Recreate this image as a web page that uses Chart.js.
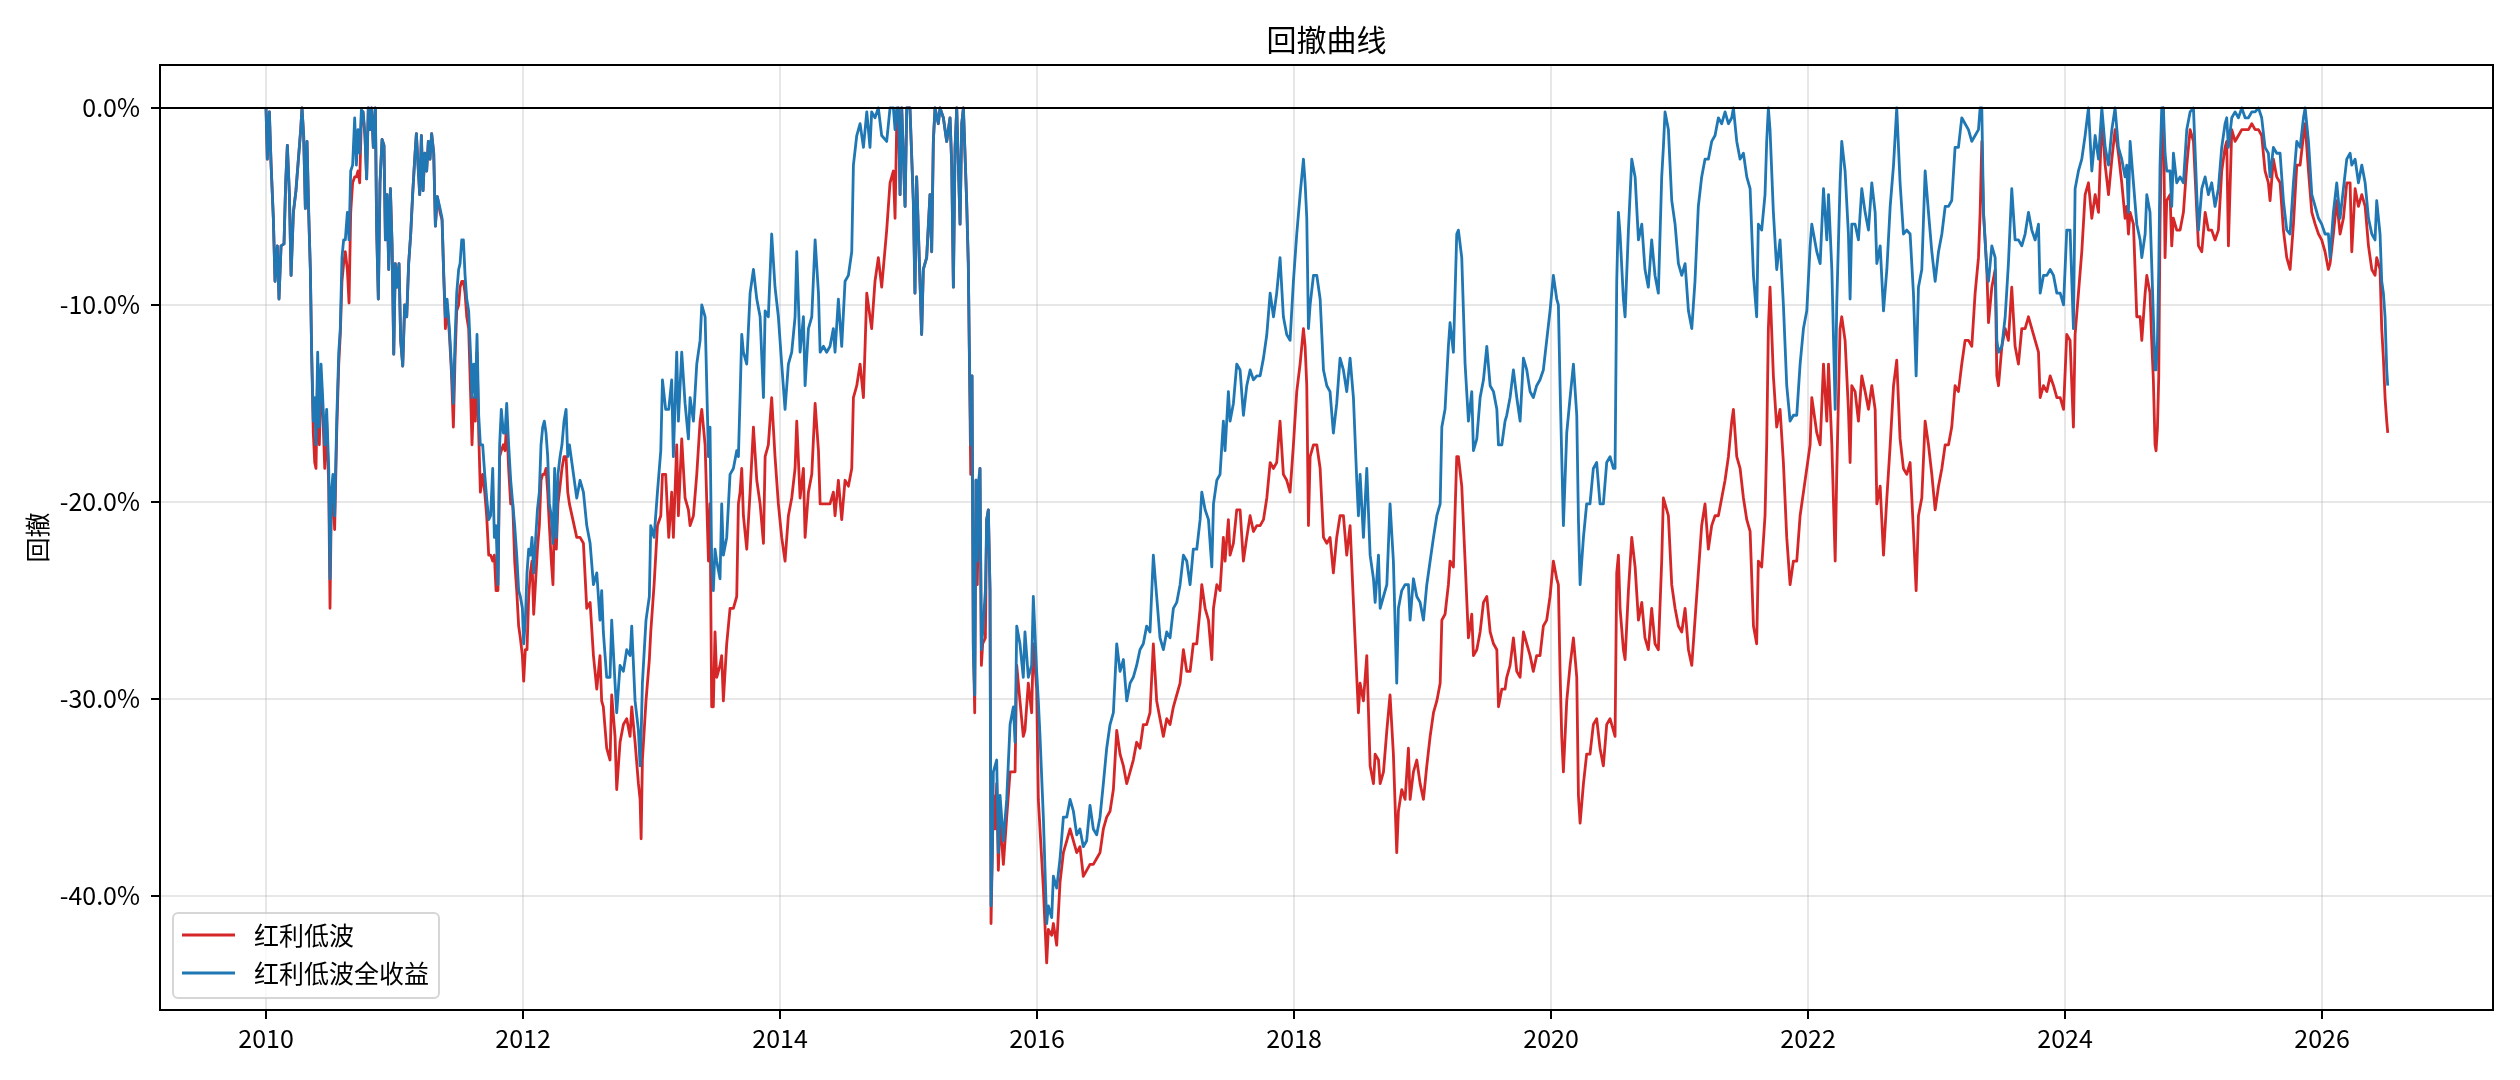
<!DOCTYPE html>
<html>
<head>
<meta charset="utf-8">
<script src="https://cdn.jsdelivr.net/npm/chart.js@4.4.0/dist/chart.umd.min.js"></script>
<style>
html,body{margin:0;padding:0;background:#fff;}
#wrap{width:2520px;height:1080px;position:relative;}
</style>
</head>
<body>
<div id="wrap"><canvas id="c" width="2520" height="1080"></canvas></div>
<script>
// ---- texts ----
const chartTitle = '回撤曲线';
const yAxisTitle = '回撤';
const seriesNames = ['红利低波', '红利低波全收益'];
const seriesColors = ['#d62728', '#1f77b4'];

// ---- tick labels ----
const xTickYears = [2010, 2012, 2014, 2016, 2018, 2020, 2022, 2024, 2026];
const yTickValues = [0, -10, -20, -30, -40];

// ---- dates (decimal years) ----
const dates = [
2010.000,2010.010,2010.026,2010.039,2010.057,2010.070,2010.088,2010.101,2010.117,2010.140,
2010.153,2010.166,2010.182,2010.195,2010.213,2010.233,2010.252,2010.270,2010.280,2010.293,
2010.306,2010.319,2010.332,2010.345,2010.355,2010.368,2010.379,2010.389,2010.402,2010.415,
2010.428,2010.441,2010.457,2010.472,2010.488,2010.498,2010.508,2010.521,2010.534,2010.550,
2010.566,2010.578,2010.591,2010.604,2010.617,2010.633,2010.646,2010.659,2010.674,2010.690,
2010.703,2010.716,2010.729,2010.742,2010.755,2010.770,2010.783,2010.796,2010.809,2010.822,
2010.835,2010.851,2010.861,2010.874,2010.887,2010.903,2010.918,2010.929,2010.942,2010.955,
2010.968,2010.981,2010.994,2011.006,2011.019,2011.035,2011.048,2011.064,2011.079,2011.095,
2011.110,2011.126,2011.141,2011.157,2011.170,2011.183,2011.196,2011.209,2011.222,2011.235,
2011.250,2011.263,2011.276,2011.289,2011.305,2011.318,2011.333,2011.354,2011.370,2011.383,
2011.396,2011.409,2011.427,2011.442,2011.458,2011.471,2011.484,2011.499,2011.510,2011.523,
2011.536,2011.549,2011.562,2011.577,2011.593,2011.603,2011.616,2011.629,2011.642,2011.655,
2011.668,2011.686,2011.702,2011.717,2011.733,2011.748,2011.764,2011.777,2011.790,2011.805,
2011.818,2011.831,2011.847,2011.860,2011.873,2011.888,2011.904,2011.920,2011.935,2011.951,
2011.966,2011.979,2011.995,2012.005,2012.018,2012.031,2012.044,2012.057,2012.070,2012.083,
2012.099,2012.112,2012.127,2012.140,2012.153,2012.166,2012.179,2012.192,2012.205,2012.220,
2012.233,2012.246,2012.259,2012.272,2012.288,2012.303,2012.319,2012.335,2012.348,2012.361,
2012.418,2012.444,2012.470,2012.496,2012.522,2012.548,2012.574,2012.599,2012.612,2012.625,
2012.651,2012.677,2012.690,2012.716,2012.729,2012.755,2012.781,2012.807,2012.833,2012.846,
2012.872,2012.898,2012.911,2012.919,2012.929,2012.957,2012.983,2012.994,2013.020,2013.046,
2013.072,2013.085,2013.110,2013.134,2013.157,2013.170,2013.196,2013.209,2013.235,2013.261,
2013.287,2013.300,2013.326,2013.352,2013.378,2013.391,2013.417,2013.443,2013.455,2013.468,
2013.481,2013.494,2013.507,2013.533,2013.546,2013.559,2013.585,2013.611,2013.637,2013.663,
2013.676,2013.689,2013.702,2013.715,2013.741,2013.767,2013.793,2013.819,2013.845,2013.871,
2013.884,2013.909,2013.935,2013.961,2013.987,2014.013,2014.039,2014.065,2014.091,2014.117,
2014.130,2014.156,2014.182,2014.195,2014.221,2014.247,2014.273,2014.299,2014.312,2014.338,
2014.363,2014.389,2014.415,2014.428,2014.454,2014.480,2014.506,2014.532,2014.558,2014.571,
2014.597,2014.623,2014.649,2014.675,2014.700,2014.713,2014.739,2014.765,2014.791,
2014.830,2014.856,2014.882,2014.895,2014.908,2014.921,2014.934,2014.947,2014.973,2014.986,
2015.011,2015.037,2015.050,2015.063,2015.089,2015.102,2015.115,2015.141,2015.167,2015.180,
2015.193,2015.206,2015.232,2015.245,2015.271,2015.297,2015.323,2015.336,2015.349,2015.362,
2015.375,2015.401,2015.414,2015.427,2015.452,2015.465,2015.473,2015.484,2015.494,2015.504,
2015.515,2015.525,2015.535,2015.546,2015.556,2015.567,2015.577,2015.598,2015.608,2015.621,
2015.634,2015.642,2015.652,2015.660,2015.673,2015.686,2015.699,2015.712,2015.738,2015.764,
2015.790,2015.816,2015.829,2015.842,2015.867,2015.893,2015.906,2015.932,2015.958,2015.971,
2015.997,2016.010,2016.023,2016.049,2016.075,2016.088,2016.114,2016.127,2016.153,2016.179,
2016.205,2016.231,2016.257,2016.283,2016.309,2016.334,2016.360,2016.386,2016.412,2016.438,
2016.464,2016.490,2016.516,2016.542,2016.568,2016.594,2016.620,2016.646,2016.672,2016.698,
2016.724,2016.749,2016.775,2016.801,2016.827,2016.853,2016.879,2016.905,2016.931,2016.957,
2016.983,2017.009,2017.035,2017.061,2017.087,2017.113,2017.139,2017.165,2017.191,2017.216,
2017.243,2017.269,2017.282,2017.308,2017.334,2017.360,2017.373,2017.399,2017.424,2017.450,
2017.463,2017.489,2017.502,2017.528,2017.554,2017.580,2017.606,2017.632,2017.658,2017.684,
2017.710,2017.736,2017.762,2017.788,2017.814,2017.840,2017.865,2017.891,2017.917,2017.943,
2017.969,2017.995,2018.021,2018.047,2018.073,2018.086,2018.099,2018.112,2018.125,2018.151,
2018.177,2018.203,2018.229,2018.255,2018.280,2018.306,2018.332,2018.358,2018.384,2018.410,
2018.436,2018.462,2018.488,2018.501,2018.514,2018.540,2018.566,2018.592,2018.618,2018.631,
2018.657,2018.670,2018.696,2018.722,2018.747,2018.773,2018.799,2018.812,2018.838,2018.864,
2018.890,2018.903,2018.929,2018.955,2018.981,2019.007,2019.033,2019.059,2019.085,2019.111,
2019.137,2019.150,2019.175,2019.201,2019.214,2019.240,2019.266,2019.279,2019.305,2019.331,
2019.357,2019.383,2019.396,2019.422,2019.448,2019.474,2019.500,2019.526,2019.552,2019.578,
2019.591,2019.617,2019.642,
2019.655,2019.681,2019.707,2019.733,2019.759,2019.785,2019.811,2019.837,2019.862,2019.888,
2019.914,2019.940,2019.966,2019.992,2020.018,2020.044,2020.057,2020.070,2020.083,2020.096,
2020.122,2020.148,2020.174,2020.200,2020.213,2020.226,2020.252,2020.277,2020.303,2020.329,
2020.355,2020.381,2020.407,2020.433,2020.459,2020.485,2020.498,2020.511,2020.524,2020.537,
2020.563,2020.576,2020.602,2020.628,2020.654,2020.680,2020.706,2020.731,2020.757,2020.783,
2020.809,2020.835,2020.861,2020.874,2020.887,2020.913,2020.939,2020.965,2020.991,2021.017,
2021.043,2021.069,2021.095,2021.120,2021.146,2021.172,2021.198,2021.224,2021.250,2021.276,
2021.302,2021.328,2021.354,2021.380,2021.406,2021.419,2021.445,2021.471,2021.497,2021.523,
2021.549,2021.575,2021.600,2021.613,2021.639,2021.665,2021.678,2021.691,2021.704,2021.730,
2021.756,2021.782,2021.808,2021.834,2021.860,2021.886,2021.912,2021.938,2021.964,2021.990,
2022.016,2022.029,
2022.068,2022.094,2022.120,2022.146,2022.159,2022.185,2022.211,2022.223,2022.249,2022.262,
2022.288,2022.314,2022.327,2022.340,2022.366,2022.392,2022.418,2022.444,2022.470,2022.496,
2022.522,2022.535,2022.561,2022.587,2022.613,2022.639,2022.665,2022.690,2022.716,2022.742,
2022.768,2022.794,2022.820,2022.841,2022.859,2022.885,2022.911,2022.937,2022.963,2022.989,
2023.015,2023.041,2023.067,2023.093,2023.118,2023.144,2023.170,2023.196,2023.222,2023.248,
2023.274,2023.300,2023.326,2023.339,2023.352,2023.365,2023.391,2023.404,2023.430,2023.456,
2023.469,2023.482,2023.508,2023.534,2023.559,2023.585,2023.611,2023.637,2023.663,2023.689,
2023.715,2023.741,2023.767,2023.793,2023.806,2023.832,2023.858,2023.884,2023.910,2023.936,
2023.962,2023.988,2024.013,2024.039,2024.065,2024.078,2024.104,2024.130,2024.156,2024.182,
2024.208,2024.234,2024.260,2024.286,2024.312,2024.338,2024.364,2024.389,2024.415,2024.441,
2024.467,
2024.480,2024.493,2024.506,2024.532,2024.558,2024.584,2024.597,2024.623,2024.636,2024.661,
2024.674,2024.687,2024.700,2024.708,2024.719,2024.729,2024.739,2024.752,2024.765,2024.778,
2024.791,2024.817,2024.830,2024.843,2024.869,2024.895,2024.921,2024.947,2024.973,2024.999,
2025.025,2025.038,2025.064,2025.090,2025.115,2025.141,2025.167,2025.193,2025.219,2025.245,
2025.258,2025.271,2025.297,2025.323,2025.349,2025.375,2025.401,2025.427,2025.453,2025.479,
2025.505,2025.530,2025.556,2025.582,2025.595,2025.621,2025.647,2025.673,2025.699,2025.725,
2025.751,2025.777,2025.803,2025.829,2025.855,2025.868,2025.894,2025.920,2025.946,2025.972,
2025.997,2026.023,2026.049,2026.062,2026.088,2026.114,2026.140,2026.166,2026.192,2026.218,
2026.231,2026.257,2026.283,2026.309,2026.335,2026.361,2026.387,2026.412,2026.425,2026.451,
2026.464,2026.477,2026.490,2026.503,2026.511
];

// ---- 红利低波 drawdown (%) ----
const drawdownIndex = [
0,-2.6,-0.2,-2.8,-5.6,-8.8,-7.0,-9.7,-7.0,-6.9,
-3.8,-1.9,-4.4,-8.5,-5.3,-4.2,-2.6,-1.1,0,-1.4,
-5.1,-1.7,-5.3,-8.2,-12.4,-16.5,-18.0,-18.3,-13.3,-17.1,
-13.6,-15.3,-18.3,-15.9,-19.2,-25.4,-20.1,-19.5,-21.4,-16.5,
-13.0,-11.5,-8.8,-7.9,-7.3,-8.2,-9.9,-5.3,-3.8,-3.5,
-3.5,-3.2,-3.8,-0.5,-0.2,-1.4,-3.6,0,-1.1,0,
-2.0,0,-6.2,-9.7,-3.8,-1.6,-1.9,-6.7,-4.4,-8.2,
-4.1,-7.0,-12.5,-7.9,-9.1,-7.9,-11.8,-13.1,-10.0,-10.6,
-7.9,-6.4,-4.4,-2.6,-1.3,-2.9,-4.4,-1.4,-4.2,-2.3,
-3.2,-1.7,-2.6,-1.3,-2.3,-6.0,-4.5,-5.3,-5.7,-8.5,
-11.2,-10.0,-11.5,-13.3,-16.2,-12.7,-10.3,-10.0,-9.1,-8.8,
-8.8,-9.4,-10.6,-11.2,-14.7,-17.1,-14.7,-15.9,-12.4,-16.5,
-19.5,-18.6,-19.5,-20.7,-22.7,-22.7,-23.0,-22.7,-24.5,-24.5,
-17.7,-17.4,-17.1,-17.4,-15.9,-18.3,-20.1,-20.1,-23.0,-24.5,
-26.3,-26.9,-27.8,-29.1,-27.5,-27.5,-24.8,-23.6,-23.0,-25.7,
-23.9,-22.4,-21.2,-18.9,-18.6,-18.6,-18.3,-19.5,-21.2,-23.0,
-24.2,-20.1,-22.4,-20.1,-19.2,-18.3,-17.7,-17.7,-19.5,-20.1,
-21.8,-21.8,-22.1,-25.4,-25.1,-27.8,-29.5,-27.8,-30.1,-30.4,
-32.5,-33.1,-29.8,-31.9,-34.6,-32.2,-31.3,-31.0,-31.9,-30.4,
-32.2,-34.3,-35.1,-37.1,-33.1,-30.1,-28.0,-26.6,-24.2,-21.2,
-20.7,-18.6,-18.6,-21.8,-19.5,-21.8,-17.1,-20.7,-16.8,-19.8,
-20.4,-21.2,-20.7,-18.6,-15.9,-15.3,-17.1,-23.0,-20.1,-30.4,
-30.4,-26.6,-28.9,-28.3,-27.8,-30.1,-27.2,-25.4,-25.4,-24.8,
-20.1,-19.5,-18.3,-20.7,-22.4,-19.5,-16.2,-18.9,-20.1,-22.1,
-17.7,-17.1,-14.7,-17.7,-20.1,-21.8,-23.0,-20.7,-19.8,-18.3,
-15.9,-19.8,-18.3,-21.8,-19.5,-18.6,-15.0,-17.4,-20.1,-20.1,
-20.1,-20.1,-19.5,-20.7,-18.9,-20.9,-18.9,-19.2,-18.3,-14.7,
-14.1,-13.0,-14.7,-9.4,-10.6,-11.2,-8.8,-7.6,-9.1,
-6.2,-3.8,-3.2,-5.6,-0.8,0,-4.4,0,-5.0,0,
0,-4.7,-9.4,-3.5,-8.8,-11.5,-8.2,-7.6,-4.4,-7.3,
-1.7,0,-0.8,0,-0.5,-1.7,-0.5,-2.9,-9.1,-2.0,
0,-5.9,-0.8,0,-4.7,-7.9,-12.4,-18.6,-13.6,-27.2,
-30.7,-18.9,-24.2,-20.1,-18.3,-28.3,-27.2,-26.9,-20.9,-20.4,
-24.5,-41.4,-37.8,-34.9,-36.6,-34.3,-38.7,-36.0,-38.4,-36.0,
-33.7,-33.7,-33.7,-28.3,-30.1,-31.9,-31.6,-29.2,-30.7,-27.2,
-29.5,-35.1,-36.6,-39.6,-43.4,-41.7,-42.0,-41.4,-42.5,-39.3,
-37.8,-37.2,-36.6,-37.2,-37.8,-37.5,-39.0,-38.7,-38.4,-38.4,
-38.1,-37.8,-36.6,-36.0,-35.7,-34.6,-31.6,-32.8,-33.4,-34.3,
-33.7,-33.1,-32.2,-32.5,-31.3,-31.3,-30.7,-27.2,-30.1,-31.0,
-31.9,-31.0,-31.3,-30.4,-29.8,-29.2,-27.5,-28.6,-28.6,-27.2,
-27.2,-25.4,-24.2,-25.4,-26.0,-28.0,-25.4,-24.2,-24.5,-21.8,
-23.0,-20.9,-22.7,-22.1,-20.4,-20.4,-23.0,-21.8,-20.7,-21.5,
-21.2,-21.2,-20.9,-19.8,-18.0,-18.3,-18.0,-15.9,-18.6,-18.9,
-19.5,-17.1,-14.4,-13.0,-11.2,-12.1,-14.1,-21.2,-17.7,-17.1,
-17.1,-18.3,-21.8,-22.1,-21.8,-23.6,-21.8,-20.7,-20.7,-22.7,
-21.2,-25.1,-28.9,-30.7,-29.2,-30.1,-27.8,-33.4,-34.3,-32.8,
-33.1,-34.3,-33.7,-31.6,-29.8,-32.8,-37.8,-35.7,-34.6,-35.1,
-32.5,-35.1,-33.7,-33.1,-34.3,-35.1,-33.4,-31.9,-30.7,-30.1,
-29.2,-26.0,-25.7,-24.2,-23.0,-23.3,-17.7,-17.7,-19.2,-23.0,
-26.9,-25.7,-27.8,-27.5,-26.6,-25.1,-24.8,-26.6,-27.2,-27.5,
-30.4,-29.5,-29.5,
-28.9,-28.3,-26.9,-28.6,-28.9,-26.6,-27.2,-27.8,-28.6,-27.8,
-27.8,-26.3,-26.0,-24.8,-23.0,-23.9,-24.2,-28.6,-31.9,-33.7,
-30.1,-28.3,-26.9,-28.9,-34.9,-36.3,-34.3,-32.8,-32.8,-31.3,
-31.0,-32.5,-33.4,-31.3,-31.0,-31.6,-31.9,-23.6,-22.7,-25.4,
-27.5,-28.0,-24.5,-21.8,-23.3,-26.0,-25.1,-26.9,-27.5,-25.4,
-27.2,-27.5,-23.0,-19.8,-20.1,-20.7,-24.2,-25.4,-26.3,-26.6,
-25.4,-27.5,-28.3,-26.0,-23.6,-21.2,-20.1,-22.4,-21.2,-20.7,
-20.7,-19.8,-18.9,-17.7,-15.9,-15.3,-17.7,-18.3,-19.8,-20.9,
-21.5,-26.3,-27.2,-23.0,-23.3,-20.7,-17.1,-11.2,-9.1,-13.6,
-16.2,-15.3,-18.0,-21.8,-24.2,-23.0,-23.0,-20.7,-19.5,-18.3,
-17.1,-14.7,
-16.5,-17.1,-13.0,-15.9,-13.0,-17.1,-23.0,-18.6,-11.2,-10.6,
-11.8,-15.3,-18.0,-14.1,-14.4,-15.9,-13.6,-14.4,-15.3,-14.1,
-15.3,-20.1,-19.2,-22.7,-19.8,-17.1,-14.1,-12.8,-16.8,-18.3,
-18.6,-18.0,-21.5,-24.5,-20.7,-19.8,-15.9,-17.1,-18.6,-20.4,
-19.2,-18.3,-17.1,-17.1,-16.2,-14.1,-14.4,-13.0,-11.8,-11.8,
-12.1,-9.4,-7.6,-5.3,-1.7,-5.3,-8.2,-10.9,-9.1,-8.2,
-13.6,-14.1,-12.1,-11.2,-11.8,-9.1,-12.1,-13.0,-11.2,-11.2,
-10.6,-11.2,-11.8,-12.4,-14.7,-14.1,-14.4,-13.6,-14.1,-14.7,
-14.7,-15.3,-11.5,-11.8,-16.2,-11.5,-9.4,-7.3,-4.4,-3.8,
-5.6,-4.4,-5.3,-0.5,-2.9,-4.4,-2.6,-1.1,-2.3,-3.8,
-5.6,
-5.0,-6.4,-5.3,-5.9,-10.6,-10.6,-11.8,-9.4,-8.5,-9.4,
-11.8,-13.8,-17.1,-17.4,-16.2,-13.6,-5.9,-0.8,0,-7.6,
-4.7,-4.4,-7.0,-5.6,-6.2,-6.2,-5.3,-2.9,-1.1,-1.7,
-5.3,-7.0,-7.3,-5.3,-6.2,-6.2,-6.7,-6.2,-3.2,-2.0,
-1.7,-7.0,-1.1,-1.7,-1.4,-1.1,-1.1,-1.1,-0.8,-1.1,
-1.1,-1.4,-3.2,-3.8,-4.7,-2.6,-3.5,-3.8,-6.2,-7.6,
-8.2,-5.9,-2.9,-2.9,-1.4,-0.8,-3.2,-5.3,-5.9,-6.4,
-6.7,-7.3,-8.2,-7.9,-6.4,-4.7,-6.4,-5.6,-3.8,-3.8,
-7.3,-4.1,-5.0,-4.4,-5.0,-7.0,-8.2,-8.5,-7.6,-8.2,
-11.2,-12.7,-14.7,-15.9,-16.5
];

// ---- 红利低波全收益 drawdown (%) ----
const drawdownTotalReturn = [
0,-2.6,-0.2,-2.8,-5.6,-8.8,-7.0,-9.7,-7.0,-6.9,
-3.8,-1.9,-4.4,-8.5,-5.3,-4.2,-2.6,-1.1,0,-1.4,
-5.1,-1.7,-5.3,-8.2,-12.4,-15.9,-14.7,-17.1,-12.4,-16.2,
-13.0,-14.7,-17.1,-15.3,-18.3,-23.9,-19.5,-18.6,-20.7,-15.9,
-12.4,-11.2,-7.6,-6.7,-6.7,-5.3,-6.7,-3.2,-2.9,-0.5,
-2.9,-1.1,-2.3,-0.1,-0.2,-1.4,-3.6,0,-1.1,0,
-2.0,0,-6.2,-9.7,-3.8,-1.6,-1.9,-6.7,-4.4,-8.2,
-4.1,-7.0,-12.5,-7.9,-9.1,-7.9,-11.8,-13.1,-10.0,-10.6,
-7.9,-6.4,-4.4,-2.6,-1.3,-2.9,-4.4,-1.4,-4.2,-2.3,
-3.2,-1.7,-2.6,-1.3,-2.3,-6.0,-4.5,-5.1,-5.6,-8.5,
-10.6,-9.7,-11.2,-13.0,-15.0,-11.8,-9.4,-8.2,-7.9,-6.7,
-6.7,-8.5,-9.7,-10.3,-12.7,-14.7,-13.0,-14.7,-11.5,-15.6,
-17.1,-17.1,-18.6,-19.8,-20.9,-20.7,-18.3,-21.8,-21.2,-24.2,
-17.1,-15.3,-16.5,-16.5,-15.0,-17.1,-18.9,-20.1,-21.2,-22.7,
-24.5,-24.8,-25.4,-27.2,-26.0,-23.6,-22.4,-22.7,-21.8,-23.6,
-21.8,-20.4,-19.5,-17.1,-16.2,-15.9,-16.5,-17.7,-20.1,-20.7,
-22.1,-18.3,-21.8,-18.6,-17.7,-17.1,-15.9,-15.3,-17.7,-17.1,
-19.8,-18.9,-19.5,-21.2,-22.1,-24.2,-23.6,-26.0,-24.5,-26.6,
-28.9,-28.9,-26.0,-29.2,-30.7,-28.3,-28.6,-27.5,-27.8,-26.3,
-30.1,-31.6,-33.4,-31.9,-29.2,-26.0,-24.8,-21.2,-21.8,-19.5,
-17.4,-13.8,-15.3,-15.3,-13.8,-17.7,-12.4,-15.9,-12.4,-15.0,
-16.8,-14.7,-15.9,-13.0,-11.8,-10.0,-10.6,-17.7,-16.2,-23.0,
-24.5,-22.4,-23.0,-23.9,-20.1,-22.7,-21.8,-18.6,-18.3,-17.4,
-17.7,-14.7,-11.5,-12.4,-13.0,-9.4,-8.2,-9.7,-10.6,-14.7,
-10.3,-10.6,-6.4,-9.1,-10.6,-13.0,-15.3,-13.0,-12.4,-10.6,
-7.3,-12.4,-10.6,-14.1,-11.2,-10.6,-6.7,-9.4,-12.4,-12.1,
-12.4,-12.1,-11.2,-12.4,-9.7,-12.1,-8.8,-8.5,-7.3,-2.9,
-1.4,-0.8,-2.0,-0.2,-2.0,-0.2,-0.5,0,-1.4,
-1.7,0,0,-1.1,0,0,-4.4,0,-5.0,0,
0,-4.7,-9.4,-3.5,-8.8,-11.5,-8.2,-7.6,-4.4,-7.3,
-1.7,0,-0.8,0,-0.5,-1.7,-0.5,-2.9,-9.1,-2.0,
0,-5.9,-0.8,0,-4.7,-7.9,-12.1,-17.1,-13.6,-27.5,
-29.8,-18.9,-23.0,-18.9,-18.3,-27.5,-26.6,-24.5,-20.9,-20.4,
-24.5,-40.5,-37.8,-33.7,-33.4,-33.1,-37.8,-34.9,-37.2,-35.1,
-31.3,-30.4,-32.2,-26.3,-27.2,-28.9,-26.6,-28.9,-28.3,-24.8,
-28.6,-30.1,-31.9,-36.0,-41.4,-40.5,-41.1,-39.0,-39.6,-38.1,
-36.0,-36.0,-35.1,-35.7,-36.9,-36.6,-37.5,-37.2,-35.4,-36.6,
-36.9,-36.0,-34.3,-32.5,-31.3,-30.7,-27.2,-28.6,-28.0,-30.1,
-29.2,-28.9,-28.3,-27.5,-27.2,-26.3,-26.6,-22.7,-24.8,-26.9,
-27.5,-26.6,-26.9,-25.4,-25.1,-24.2,-22.7,-23.0,-24.2,-22.4,
-22.4,-20.9,-19.5,-20.4,-20.9,-23.3,-20.1,-18.9,-18.6,-15.9,
-17.4,-14.4,-15.9,-15.0,-13.0,-13.3,-15.6,-14.1,-13.3,-13.8,
-13.6,-13.6,-12.7,-11.5,-9.4,-10.6,-9.4,-7.6,-10.6,-11.5,
-11.8,-8.8,-6.4,-4.4,-2.6,-3.8,-5.6,-11.2,-10.0,-8.5,
-8.5,-9.7,-13.3,-14.1,-14.4,-16.5,-15.0,-12.7,-13.3,-14.4,
-12.7,-14.7,-18.9,-20.7,-18.6,-21.8,-18.3,-22.7,-23.9,-25.1,
-22.7,-25.4,-24.8,-24.2,-20.1,-23.0,-29.2,-25.4,-24.5,-24.2,
-24.2,-26.0,-23.9,-24.8,-25.1,-26.0,-24.2,-23.0,-21.8,-20.7,
-20.1,-16.2,-15.3,-12.1,-10.9,-12.4,-6.4,-6.2,-7.6,-13.0,
-15.9,-14.4,-17.4,-16.8,-14.7,-13.8,-12.1,-14.1,-14.4,-15.3,
-17.1,-17.1,-15.9,
-15.6,-14.7,-13.3,-14.7,-15.9,-12.7,-13.3,-14.4,-14.7,-14.1,
-13.8,-13.3,-11.8,-10.3,-8.5,-9.7,-10.0,-14.1,-17.7,-21.2,
-16.5,-14.7,-13.0,-15.6,-20.9,-24.2,-21.8,-20.1,-20.1,-18.3,
-18.0,-20.1,-20.1,-18.0,-17.7,-18.3,-18.3,-8.8,-5.3,-6.4,
-9.7,-10.6,-6.2,-2.6,-3.5,-6.7,-5.9,-8.2,-9.1,-6.7,
-8.5,-9.4,-3.5,-2.0,-0.2,-1.1,-4.7,-5.9,-7.9,-8.5,
-7.9,-10.3,-11.2,-8.8,-5.0,-3.5,-2.6,-2.6,-1.7,-1.4,
-0.5,-0.8,-0.2,-0.8,-0.5,0,-1.7,-2.6,-2.3,-3.5,
-4.1,-8.5,-10.6,-5.9,-6.2,-4.4,-1.7,0,-1.1,-5.3,
-8.2,-6.7,-10.0,-14.1,-15.9,-15.6,-15.6,-13.0,-11.2,-10.3,
-7.0,-5.9,
-7.3,-7.9,-4.1,-6.7,-4.4,-8.2,-15.3,-10.0,-3.8,-1.7,
-3.2,-6.4,-9.7,-5.9,-5.9,-6.7,-4.1,-5.3,-6.2,-3.8,
-5.3,-7.9,-7.0,-10.3,-8.2,-5.0,-2.9,0,-3.8,-6.4,
-6.2,-6.4,-9.4,-13.6,-9.1,-8.2,-3.2,-5.3,-7.3,-8.8,
-7.3,-6.4,-5.0,-5.0,-4.7,-2.0,-2.0,-0.5,-0.8,-1.1,
-1.7,-1.4,-1.1,0,0,-5.3,-8.2,-8.8,-7.0,-7.6,
-11.8,-12.4,-12.1,-10.6,-7.9,-4.1,-6.7,-6.7,-7.0,-6.4,
-5.3,-6.2,-6.7,-5.9,-9.4,-8.5,-8.5,-8.2,-8.5,-9.4,
-9.4,-10.0,-6.2,-6.2,-11.2,-4.1,-3.2,-2.6,-1.4,0,
-3.2,-1.4,-2.6,0,-2.0,-2.9,-1.1,0,-2.0,-2.6,
-3.5,
-2.9,-5.3,-1.7,-3.8,-5.9,-6.7,-7.6,-6.4,-4.4,-5.3,
-7.9,-10.6,-13.3,-13.3,-11.8,-8.2,-2.9,0,0,-2.3,
-3.2,-3.2,-5.0,-2.3,-3.8,-3.5,-3.8,-1.1,-0.2,0,
-4.4,-6.2,-4.1,-3.5,-4.4,-3.8,-5.0,-4.1,-2.0,-0.8,
-0.5,-2.0,-0.5,-0.2,-0.5,0,-0.5,-0.5,-0.2,-0.2,
0,-0.5,-2.0,-2.3,-3.5,-2.0,-2.3,-2.3,-4.7,-6.2,
-6.4,-3.8,-1.7,-2.0,-0.5,0,-1.7,-4.4,-5.0,-5.6,
-5.9,-6.4,-6.4,-7.6,-5.3,-3.8,-5.6,-4.1,-2.6,-2.3,
-2.9,-2.6,-3.8,-2.9,-3.8,-5.6,-6.4,-6.7,-4.7,-6.4,
-8.8,-9.4,-10.6,-13.3,-14.1
];

// ---------------- chart ----------------
const FONT = "'Noto Sans CJK SC', 'Noto Sans', sans-serif";
Chart.defaults.font.family = FONT;
Chart.defaults.color = '#000';

function toPoints(values) {
  const n = Math.min(dates.length, values.length);
  const pts = [];
  for (let i = 0; i < n; i++) pts.push({ x: dates[i], y: values[i] });
  return pts;
}

const GRID = 'rgba(176,176,176,0.3)';

const framePlugin = {
  id: 'frame',
  afterDatasetsDraw(chart) {
    const { ctx, chartArea: a, scales: { y } } = chart;
    ctx.save();
    // zero reference line
    const y0 = y.getPixelForValue(0);
    ctx.strokeStyle = '#000';
    ctx.lineWidth = 2;
    ctx.beginPath();
    ctx.moveTo(a.left, y0);
    ctx.lineTo(a.right, y0);
    ctx.stroke();
    // axes frame
    ctx.strokeRect(a.left, a.top, a.right - a.left, a.bottom - a.top);

    // legend (lower left, inside axes)
    const lx = a.left + 13, ly = a.bottom - 97, lw = 266, lh = 85;
    ctx.beginPath();
    if (ctx.roundRect) ctx.roundRect(lx, ly, lw, lh, 5); else ctx.rect(lx, ly, lw, lh);
    ctx.fillStyle = 'rgba(255,255,255,0.8)';
    ctx.fill();
    ctx.strokeStyle = 'rgba(204,204,204,0.8)';
    ctx.lineWidth = 2;
    ctx.stroke();
    ctx.font = '25px ' + FONT;
    ctx.textBaseline = 'middle';
    ctx.textAlign = 'left';
    chart.data.datasets.forEach((ds, i) => {
      const yy = ly + 22 + i * 38;
      ctx.strokeStyle = ds.borderColor;
      ctx.lineWidth = 3;
      ctx.beginPath();
      ctx.moveTo(lx + 9, yy);
      ctx.lineTo(lx + 62, yy);
      ctx.stroke();
      ctx.fillStyle = '#000';
      ctx.fillText(ds.label, lx + 81, yy);
    });
    ctx.restore();
  }
};

new Chart(document.getElementById('c'), {
  type: 'line',
  data: {
    datasets: [
      {
        label: seriesNames[0],
        data: toPoints(drawdownIndex),
        borderColor: seriesColors[0],
        borderWidth: 2.8,
        pointRadius: 0,
        tension: 0,
        fill: false,
        borderJoinStyle: 'round',
        order: 2
      },
      {
        label: seriesNames[1],
        data: toPoints(drawdownTotalReturn),
        borderColor: seriesColors[1],
        borderWidth: 2.8,
        pointRadius: 0,
        tension: 0,
        fill: false,
        borderJoinStyle: 'round',
        order: 1
      }
    ]
  },
  options: {
    responsive: false,
    animation: false,
    devicePixelRatio: 1,
    layout: { padding: { left: 0, right: 27, top: 0, bottom: 0 } },
    plugins: {
      legend: { display: false },
      tooltip: { enabled: false },
      title: {
        display: true,
        text: chartTitle,
        fullSize: false,
        color: '#000',
        font: { size: 30, weight: 'normal', family: FONT },
        padding: { top: 22, bottom: 7 }
      }
    },
    scales: {
      x: {
        type: 'linear',
        min: 2009.175,
        max: 2027.33,
        afterBuildTicks: ax => { ax.ticks = xTickYears.map(v => ({ value: v })); },
        afterFit: ax => { ax.height = 70; },
        ticks: {
          font: { size: 25 },
          color: '#000',
          padding: 4,
          maxRotation: 0,
          autoSkip: false,
          callback: v => String(v)
        },
        grid: { color: GRID, lineWidth: 2, tickColor: '#000', tickLength: 9, tickWidth: 2 },
        border: { display: false }
      },
      y: {
        type: 'linear',
        min: -45.79,
        max: 2.18,
        afterBuildTicks: ax => { ax.ticks = yTickValues.map(v => ({ value: v })); },
        afterFit: ax => { ax.width = 160; },
        ticks: {
          font: { size: 25 },
          color: '#000',
          padding: 11,
          callback: v => Number(v).toFixed(1) + '%'
        },
        grid: { color: GRID, lineWidth: 2, tickColor: '#000', tickLength: 9, tickWidth: 2 },
        border: { display: false },
        title: {
          display: true,
          text: yAxisTitle,
          color: '#000',
          font: { size: 25 },
          padding: { top: 22, bottom: 0 }
        }
      }
    }
  },
  plugins: [framePlugin]
});
</script>
</body>
</html>
